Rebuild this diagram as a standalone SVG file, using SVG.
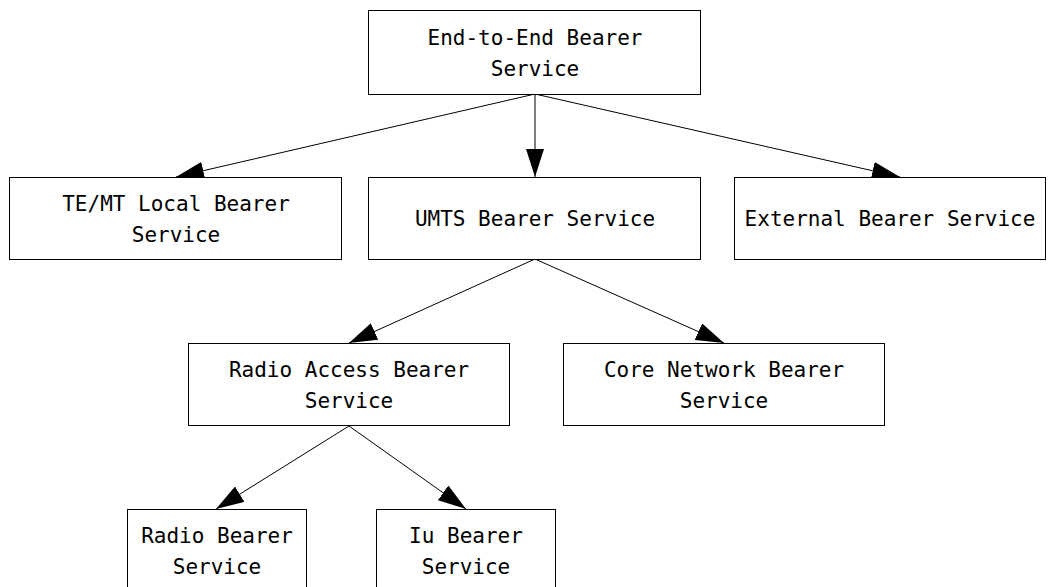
<svg xmlns="http://www.w3.org/2000/svg" width="1055" height="587" viewBox="0 0 1055 587">
  <defs>
    <marker id="arrow" markerWidth="28" markerHeight="18" refX="28" refY="9" orient="auto" markerUnits="userSpaceOnUse">
      <path d="M0,0 L28,9 L0,18 Z" fill="#000"/>
    </marker>
    <style>
      .box { fill: #fff; stroke: #000; stroke-width: 1; }
      .label { font-family: "DejaVu Sans Mono", "Liberation Mono", monospace; font-size: 21px; fill: #000; text-anchor: middle; }
      .edge { stroke: #000; stroke-width: 1; fill: none; marker-end: url(#arrow); }
    </style>
  </defs>
  <rect width="1055" height="587" fill="#fff"/>

  <g id="connectors">
    <line class="edge" x1="535" y1="94" x2="535" y2="177"/>
    <line class="edge" x1="535" y1="94" x2="176" y2="177"/>
    <line class="edge" x1="535" y1="94" x2="900" y2="177"/>
    <line class="edge" x1="535" y1="259" x2="349" y2="343"/>
    <line class="edge" x1="535" y1="259" x2="724" y2="343"/>
    <line class="edge" x1="349" y1="426" x2="216" y2="509"/>
    <line class="edge" x1="349" y1="426" x2="466" y2="509"/>
  </g>

  <g id="end-to-end">
    <rect class="box" x="368.5" y="10.5" width="332" height="84"/>
    <text class="label" x="535" y="45">End-to-End Bearer</text>
    <text class="label" x="535" y="76">Service</text>
  </g>

  <g id="te-mt-local">
    <rect class="box" x="9.5" y="177.5" width="332" height="82"/>
    <text class="label" x="176" y="211">TE/MT Local Bearer</text>
    <text class="label" x="176" y="242">Service</text>
  </g>

  <g id="umts">
    <rect class="box" x="368.5" y="177.5" width="332" height="82"/>
    <text class="label" x="535" y="226">UMTS Bearer Service</text>
  </g>

  <g id="external">
    <rect class="box" x="734.5" y="177.5" width="311" height="82"/>
    <text class="label" x="890" y="226">External Bearer Service</text>
  </g>

  <g id="radio-access">
    <rect class="box" x="188.5" y="343.5" width="321" height="82"/>
    <text class="label" x="349" y="377">Radio Access Bearer</text>
    <text class="label" x="349" y="408">Service</text>
  </g>

  <g id="core-network">
    <rect class="box" x="563.5" y="343.5" width="321" height="82"/>
    <text class="label" x="724" y="377">Core Network Bearer</text>
    <text class="label" x="724" y="408">Service</text>
  </g>

  <g id="radio-bearer">
    <rect class="box" x="127.5" y="509.5" width="179" height="90"/>
    <text class="label" x="217" y="543">Radio Bearer</text>
    <text class="label" x="217" y="574">Service</text>
  </g>

  <g id="iu-bearer">
    <rect class="box" x="376.5" y="509.5" width="179" height="90"/>
    <text class="label" x="466" y="543">Iu Bearer</text>
    <text class="label" x="466" y="574">Service</text>
  </g>
</svg>
